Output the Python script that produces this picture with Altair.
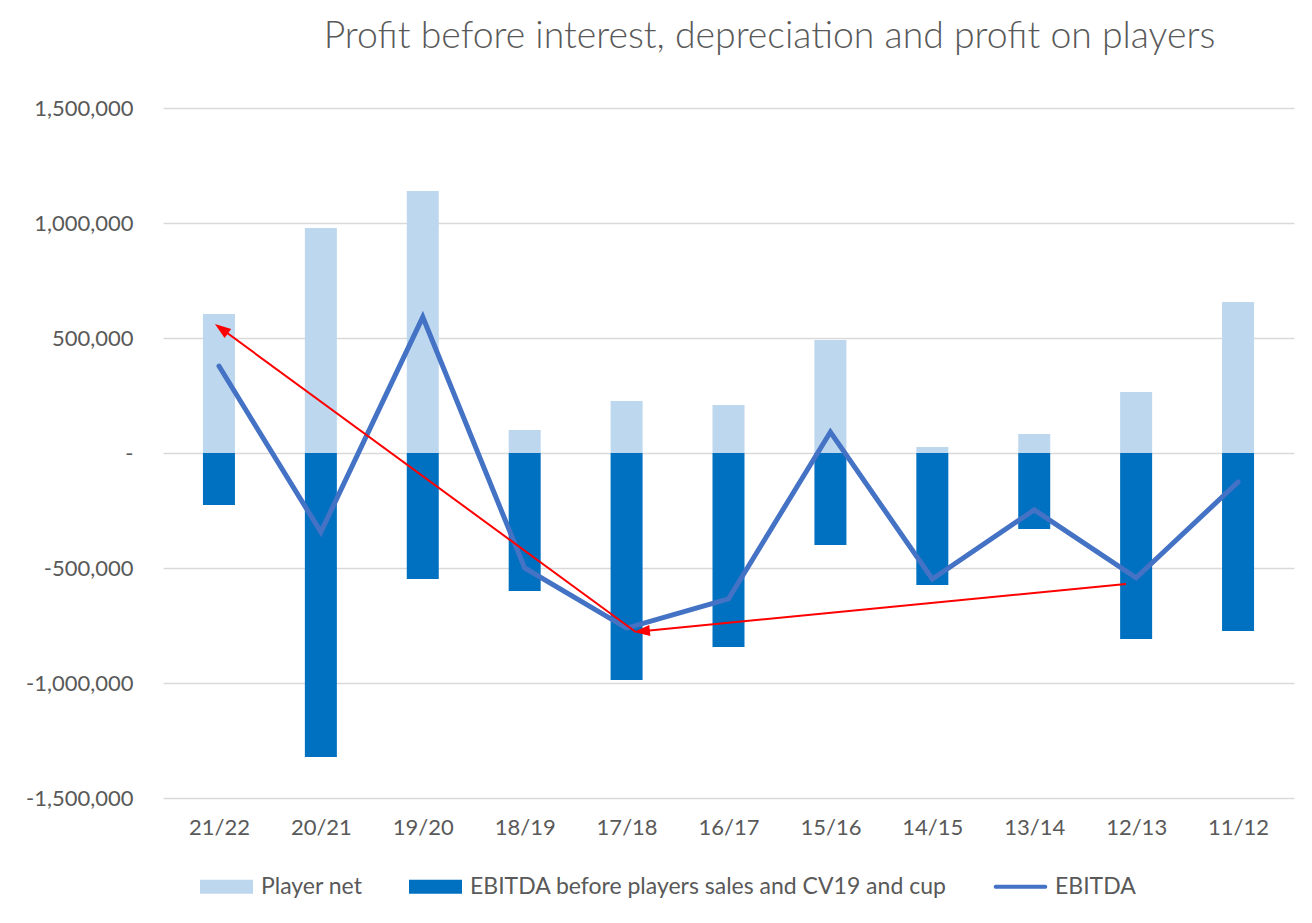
import json
import altair as alt
import pandas as pd

categories = ["21/22", "20/21", "19/20", "18/19", "17/18", "16/17", "15/16", "14/15", "13/14", "12/13", "11/12"]
player_net = [604000, 978000, 1139000, 100000, 226000, 209000, 491000, 26000, 83000, 265000, 657000]
ebitda_before = [-226000, -1322000, -548000, -600000, -987000, -843000, -400000, -574000, -330000, -809000, -774000]
ebitda = [378000, -344000, 591000, -500000, -761000, -634000, 91000, -548000, -247000, -543000, -126000]

series_names = ["Player net", "EBITDA before players sales and CV19 and cup", "EBITDA"]
series_colors = ["#BDD7EE", "#0070C0", "#4472C4"]

# annotation arrows (in category-index / value units)
arrow_x_start = [4.09, 8.90]
arrow_y_start = [-778000, -570000]
arrow_x_end = [0.024, 4.15]
arrow_y_end = [540000, -775000]
arrow_angle = [305.8, 264.6]

df = pd.DataFrame({
    "idx": list(range(len(categories))),
    "cat": categories,
    "player_net": player_net,
    "ebitda_before": ebitda_before,
    "ebitda": ebitda,
    "zero": [0] * len(categories),
})
arrows = pd.DataFrame({
    "x": arrow_x_start, "y": arrow_y_start,
    "x2": arrow_x_end, "y2": arrow_y_end, "angle": arrow_angle,
})
legend_df = pd.DataFrame({"series": series_names})

FONT = "Lato"
GREY = "#595959"

label_expr = json.dumps(categories) + "[round(datum.value)]"

x_scale = alt.Scale(domain=[-0.5, len(categories) - 0.5], nice=False, zero=False)
x_axis = alt.Axis(values=list(range(len(categories))), labelExpr=label_expr,
                  grid=False, ticks=False, domain=False, title=None,
                  labelFontSize=22, labelColor=GREY, labelFont=FONT,
                  labelPadding=19)
y_scale = alt.Scale(domain=[-1500000, 1500000], nice=False)
y_axis = alt.Axis(values=[-1500000, -1000000, -500000, 0, 500000, 1000000, 1500000],
                  labelExpr="datum.value == 0 ? '-\u2002' : replace(format(datum.value, ','), '\u2212', '-')",
                  ticks=False, domain=False, title=None, grid=True,
                  gridColor="#D9D9D9", gridWidth=1.3,
                  labelFontSize=22, labelColor=GREY, labelFont=FONT, labelPadding=30)

base = alt.Chart(df)

light = base.mark_bar(size=32, color=series_colors[0]).encode(
    x=alt.X("idx:Q", scale=x_scale, axis=x_axis),
    y=alt.Y("player_net:Q", scale=y_scale, axis=y_axis),
    y2="zero:Q",
)
dark = base.mark_bar(size=32, color=series_colors[1]).encode(
    x=alt.X("idx:Q", scale=x_scale, axis=x_axis),
    y=alt.Y("ebitda_before:Q", scale=y_scale, axis=y_axis),
    y2="zero:Q",
)
line = base.mark_line(color=series_colors[2], strokeWidth=5, strokeCap="round", strokeJoin="miter").encode(
    x=alt.X("idx:Q", scale=x_scale, axis=x_axis),
    y=alt.Y("ebitda:Q", scale=y_scale, axis=y_axis),
)

arrow_lines = alt.Chart(arrows).mark_rule(color="#FF0000", strokeWidth=2).encode(
    x=alt.X("x:Q", scale=x_scale, axis=x_axis),
    y=alt.Y("y:Q", scale=y_scale, axis=y_axis),
    x2="x2:Q", y2="y2:Q",
)
arrow_heads = alt.Chart(arrows).mark_point(shape="M0,-1L0.7,1L-0.7,1Z", filled=True, color="#FF0000",
                                           opacity=1, size=256, strokeWidth=0).encode(
    x=alt.X("x2:Q", scale=x_scale, axis=x_axis),
    y=alt.Y("y2:Q", scale=y_scale, axis=y_axis),
    angle=alt.Angle("angle:Q", scale=None),
)

leg = alt.Legend(orient="none", legendX=37, legendY=752, direction="horizontal",
                 labelFontSize=23, labelColor=GREY, labelFont=FONT,
                 symbolSize=2809, symbolStrokeWidth=0, symbolOpacity=1,
                 labelOffset=8, columnPadding=46, labelLimit=700)

legend_layer = alt.Chart(legend_df).transform_filter("false").mark_point(filled=True).encode(
    color=alt.Color("series:N", title=None,
                    scale=alt.Scale(domain=series_names, range=series_colors),
                    legend=leg),
    shape=alt.Shape("series:N", title=None,
                    scale=alt.Scale(domain=series_names,
                                    range=["M-1,-0.264H1V0.264H-1Z",
                                           "M-1,-0.264H1V0.264H-1Z",
                                           "M-0.93,-0.08H0.93A0.08,0.08 0 0 1 0.93,0.08H-0.93A0.08,0.08 0 0 1 -0.93,-0.08Z"]),
                    legend=leg),
)

chart = alt.layer(light, dark, line, arrow_lines, arrow_heads, legend_layer).properties(
    width=1131,
    height=690,
    background="white",
    autosize=alt.AutoSizeParams(type="none"),
    padding={"left": 155, "top": 100, "right": 10, "bottom": 115},
    title=alt.TitleParams("Profit before interest, depreciation and profit on players",
                          font=FONT, fontSize=37.4, fontWeight=300, color=GREY,
                          anchor="middle", dx=41, offset=42),
).configure_view(
    stroke="transparent", strokeWidth=0
).configure_axisX(
    grid=False, domain=False, ticks=False
).configure_axisY(
    domain=False, ticks=False
)

chart.save("out.html", embed_options={"renderer": "svg", "actions": False})
